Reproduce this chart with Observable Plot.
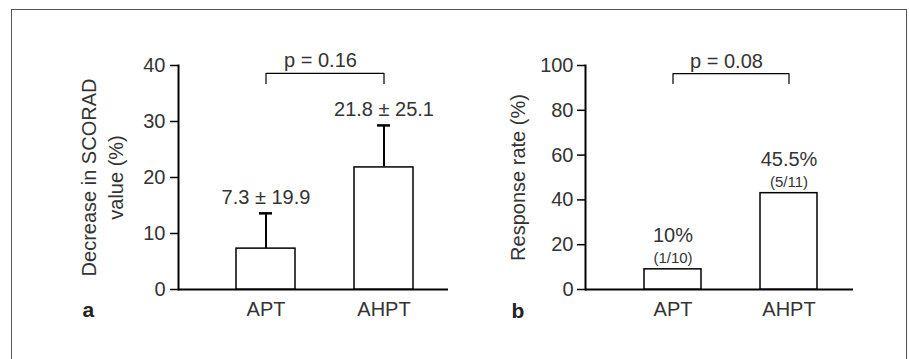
<!DOCTYPE html>
<html><head><meta charset="utf-8">
<script src="https://cdn.jsdelivr.net/npm/d3@7"></script>
<script src="https://cdn.jsdelivr.net/npm/@observablehq/plot@0.6"></script>
<style>
body{margin:0;background:#fff;}
#wrap{position:relative;width:909px;height:359px;overflow:hidden;background:#fff;}
#wrap svg{position:absolute;top:0;}
#border{position:absolute;left:11px;top:9px;width:896px;height:400px;border:1.5px solid #555;border-bottom:none;box-sizing:border-box;pointer-events:none;}
</style></head><body><div id="wrap"></div>
<script>
// ---- data ----
const groups = ["APT", "AHPT"];
const scoradMean = [7.3, 21.8];
const scoradErrTop = [13.6, 29.3];
const scoradLabels = ["7.3 ± 19.9", "21.8 ± 25.1"];
const scoradTicks = [0, 10, 20, 30, 40];
const scoradTitle = "Decrease in SCORAD\nvalue (%)";
const pA = "p = 0.16";
const bracketA = [36.8, 38.6];

const responseRate = [9, 43];
const responseLabels = ["10%", "45.5%"];
const responseCounts = ["(1/10)", "(5/11)"];
const responseTicks = [0, 20, 40, 60, 80, 100];
const responseTitle = "Response rate (%)";
const pB = "p = 0.08";
const bracketB = [92, 96.4];

const panelLetters = ["a", "b"];

// ---- build ----
const font = "'Liberation Sans', Arial, Helvetica, sans-serif";
const txt = "#333";
const style = {fontFamily: font, fontSize: "20px", color: txt, background: "transparent", overflow: "visible"};

const dataA = groups.map((g, i) => ({group: g, value: scoradMean[i], err: scoradErrTop[i], label: scoradLabels[i]}));
const brA = [
  {group: groups[0], y: bracketA[0]}, {group: groups[0], y: bracketA[1]},
  {group: groups[1], y: bracketA[1]}, {group: groups[1], y: bracketA[0]}
];
const dataB = groups.map((g, i) => ({group: g, value: responseRate[i], label: responseLabels[i], count: responseCounts[i]}));
const brB = [
  {group: groups[0], y: bracketB[0]}, {group: groups[0], y: bracketB[1]},
  {group: groups[1], y: bracketB[1]}, {group: groups[1], y: bracketB[0]}
];

const plotA = Plot.plot({
  width: 450, height: 359, marginLeft: 178, marginRight: 2, marginTop: 65, marginBottom: 70,
  style,
  x: {type: "band", domain: groups, range: [235, 413], paddingInner: 0.504, paddingOuter: 0, align: 0.5},
  y: {domain: [0, 40]},
  marks: [
    Plot.frame({anchor: "left", stroke: "black", strokeWidth: 2}),
    Plot.ruleY([0], {stroke: "black", strokeWidth: 2}),
    Plot.ruleX(dataA, {x: "group", y1: "value", y2: "err", stroke: "black", strokeWidth: 2}),
    Plot.tickY(dataA, {x: "group", y: "err", stroke: "black", strokeWidth: 2.5, insetLeft: 23, insetRight: 23}),
    Plot.barY(dataA, {x: "group", y: "value", fill: "white", stroke: "black", strokeWidth: 1.5}),
    Plot.text(dataA, {x: "group", y: "err", text: "label", dy: -9, lineAnchor: "bottom", fill: txt, fontSize: 20}),
    Plot.line(brA, {x: "group", y: "y", stroke: "black", strokeWidth: 1.2}),
    Plot.text([pA], {y: [bracketA[1]], text: d => d, dx: 7, dy: -6, lineAnchor: "bottom", fill: txt, fontSize: 20}),
    Plot.axisY({ticks: scoradTicks, tickSize: 8, tickPadding: 5, stroke: "black", strokeWidth: 1.5, fill: txt, label: null, fontSize: 20}),
    Plot.axisX({tickSize: 0, tickPadding: 12, fill: txt, label: null, fontSize: 20}),
    Plot.text([scoradTitle], {frameAnchor: "left", rotate: -90, text: d => d, lineAnchor: "top", dx: -102, lineHeight: 1.35, fill: txt, fontSize: 20, textAnchor: "middle"}),
    Plot.text([panelLetters[0]], {frameAnchor: "bottom-left", text: d => d, dx: -96, dy: 27, lineAnchor: "bottom", textAnchor: "start", fontWeight: "bold", fontSize: 21, fill: "#222"})
  ]
});

const plotB = Plot.plot({
  width: 459, height: 359, marginLeft: 135, marginRight: 56, marginTop: 65, marginBottom: 70,
  style,
  x: {type: "band", domain: groups, range: [193.3, 367.5], paddingInner: 0.507, paddingOuter: 0, align: 0.5},
  y: {domain: [0, 100]},
  marks: [
    Plot.frame({anchor: "left", stroke: "black", strokeWidth: 2}),
    Plot.ruleY([0], {stroke: "black", strokeWidth: 2}),
    Plot.barY(dataB, {x: "group", y: "value", fill: "white", stroke: "black", strokeWidth: 1.5}),
    Plot.text(dataB, {x: "group", y: "value", text: "label", dy: -27, lineAnchor: "bottom", fill: txt, fontSize: 20}),
    Plot.text(dataB, {x: "group", y: "value", text: "count", dy: -6, lineAnchor: "bottom", fill: txt, fontSize: 15}),
    Plot.line(brB, {x: "group", y: "y", stroke: "black", strokeWidth: 1.2}),
    Plot.text([pB], {y: [bracketB[1]], text: d => d, dx: 7, dy: -6, lineAnchor: "bottom", fill: txt, fontSize: 20}),
    Plot.axisY({ticks: responseTicks, tickSize: 8, tickPadding: 4, stroke: "black", strokeWidth: 1.5, fill: txt, label: null, fontSize: 20}),
    Plot.axisX({tickSize: 0, tickPadding: 12, fill: txt, label: null, fontSize: 20}),
    Plot.text([responseTitle], {frameAnchor: "left", rotate: -90, text: d => d, lineAnchor: "top", dx: -75, fill: txt, fontSize: 20, textAnchor: "middle"}),
    Plot.text([panelLetters[1]], {frameAnchor: "bottom-left", text: d => d, dx: -74, dy: 28, lineAnchor: "bottom", textAnchor: "start", fontWeight: "bold", fontSize: 21, fill: "#222"})
  ]
});

const wrap = document.getElementById("wrap");
plotA.style.left = "0px";
plotB.style.left = "450px";
wrap.appendChild(plotA);
wrap.appendChild(plotB);
const border = document.createElement("div");
border.id = "border";
wrap.appendChild(border);
</script>
</body></html>
